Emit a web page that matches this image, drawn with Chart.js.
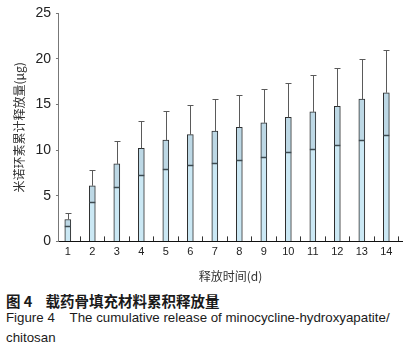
<!DOCTYPE html>
<html>
<head>
<meta charset="utf-8">
<script src="https://cdn.jsdelivr.net/npm/chart.js@4"></script>
<style>
  body { margin: 0; background: #fff; width: 407px; height: 351px; overflow: hidden; position: relative; }
  #wrap { position: absolute; left: 0; top: 0; width: 407px; height: 284px; }
  .cap { position: absolute; left: 6px; color: #1a1a1a; white-space: nowrap; }
  #cap1 { top: 290px; font-size: 14.5px; font-family: "Noto Sans CJK SC", sans-serif; font-weight: bold; }
  #cap2 { top: 310px; font-size: 13.3px; font-family: "Liberation Sans", Arial, sans-serif; }
  #cap3 { top: 330px; font-size: 13.3px; font-family: "Liberation Sans", Arial, sans-serif; }
</style>
</head>
<body>
<div id="wrap"><canvas id="chartjs"></canvas></div>
<div class="cap" id="cap1">图 4&nbsp;&nbsp;&nbsp;&nbsp;载药骨填充材料累积释放量</div>
<div class="cap" id="cap2">Figure 4&nbsp;&nbsp;&nbsp;&nbsp;The cumulative release of minocycline-hydroxyapatite/</div>
<div class="cap" id="cap3">chitosan</div>
<script>
// release data
var days = [1, 2, 3, 4, 5, 6, 7, 8, 9, 10, 11, 12, 13, 14];
var releaseMean = [2.4, 6.1, 8.5, 10.2, 11.1, 11.7, 12.1, 12.5, 13.0, 13.6, 14.2, 14.8, 15.6, 16.3];
var releaseSd = [0.7, 1.75, 2.5, 2.95, 3.2, 3.3, 3.5, 3.6, 3.7, 3.8, 4.05, 4.25, 4.45, 4.65];
var yTicks = [0, 5, 10, 15, 20, 25];

var points = [];
for (let i = 0; i < days.length; i++) {
  points.push({ x: days[i], y: releaseMean[i] });
}

// error bars drawn on top of the bars
var errorBars = {
  id: "errorBars",
  afterDatasetsDraw: function (chart) {
    var ctx = chart.ctx;
    var yScale = chart.scales.y;
    var meta = chart.getDatasetMeta(0);
    ctx.save();
    meta.data.forEach(function (bar, i) {
      var x = Math.round(bar.x) + 0.5;
      var yHi = Math.round(yScale.getPixelForValue(releaseMean[i] + releaseSd[i])) + 0.5;
      var yLo = Math.round(yScale.getPixelForValue(releaseMean[i] - releaseSd[i])) + 0.5;
      var yMid = yScale.getPixelForValue(releaseMean[i]);
      var half = bar.width / 2;
      ctx.fillStyle = "rgba(90,110,120,0.12)";
      ctx.fillRect(bar.x - half, yMid, bar.width, yLo - yMid);
      ctx.strokeStyle = "#5a5a5a";
      ctx.lineWidth = 1;
      ctx.beginPath();
      ctx.moveTo(x, yHi);
      ctx.lineTo(x, yMid);
      ctx.moveTo(x - 3, yHi);
      ctx.lineTo(x + 3, yHi);
      ctx.stroke();
      ctx.strokeStyle = "#3c4a50";
      ctx.lineWidth = 1.5;
      ctx.beginPath();
      ctx.moveTo(bar.x - half, yLo);
      ctx.lineTo(bar.x + half, yLo);
      ctx.stroke();
    });
    ctx.restore();
  },
};

var ctx0 = document.getElementById("chartjs");
var myChart = new Chart(ctx0, {
  type: "bar",
  data: {
    datasets: [
      {
        data: points,
        backgroundColor: "#cbe8f4",
        borderColor: "#2a2a2a",
        borderWidth: 1,
        barThickness: 6,
      },
    ],
  },
  plugins: [errorBars],
  options: {
    responsive: true,
    maintainAspectRatio: false,
    animation: false,
    layout: { padding: { left: 12, top: 6, right: 5, bottom: 0 } },
    plugins: {
      legend: { display: false },
      tooltip: { enabled: false },
    },
    scales: {
      x: {
        type: "linear",
        offset: false,
        min: 0.64,
        max: 14.64,
        afterBuildTicks: function (scale) {
          scale.ticks = days.map(function (d) { return { value: d }; });
        },
        ticks: {
          font: { family: "Liberation Sans", size: 11 },
          color: "#222",
          padding: 9,
          autoSkip: false,
          maxRotation: 0,
        },
        grid: {
          offset: true,
          drawOnChartArea: false,
          tickLength: -5,
          color: function (c) { return c.index >= 14 ? "rgba(0,0,0,0)" : "#333"; },
        },
        border: { color: "#111", width: 1 },
        title: {
          display: true,
          text: "释放时间(d)",
          font: { family: "Noto Sans CJK SC", size: 12 },
          color: "#333",
          padding: { top: 2, bottom: 0 },
        },
      },
      y: {
        min: 0,
        max: 25,
        afterBuildTicks: function (scale) {
          scale.ticks = yTicks.map(function (v) { return { value: v }; });
        },
        ticks: {
          font: { family: "Liberation Sans", size: 14 },
          color: "#222",
          padding: 5,
        },
        grid: { drawOnChartArea: false, tickLength: 3, color: "#777" },
        border: { color: "#777", width: 1 },
        title: {
          display: true,
          text: "米诺环素累计释放量(μg)",
          font: { family: "Noto Sans CJK SC", size: 12 },
          color: "#333",
          padding: { top: 0, bottom: 4 },
        },
      },
    },
  },
});
</script>
</body>
</html>
